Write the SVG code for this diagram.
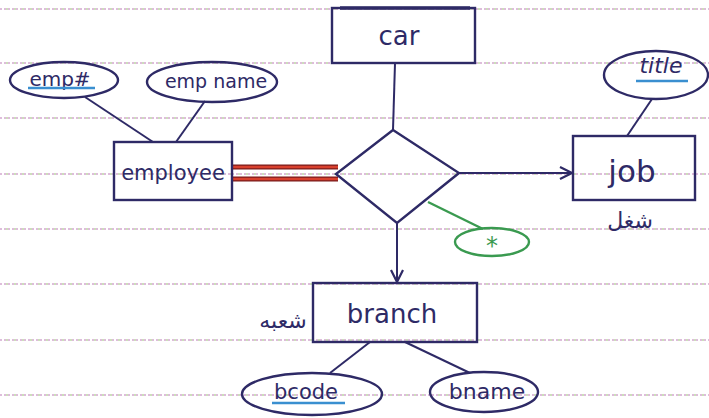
<svg xmlns="http://www.w3.org/2000/svg" width="709" height="418" viewBox="0 0 709 418">
<defs>
<style>
.paper{stroke:#d4a8d0;stroke-width:1.5;stroke-dasharray:2 2}
.paper2{stroke:#bcd4a4;stroke-width:1.5;stroke-dasharray:2 6;stroke-dashoffset:2}
.shape{fill:none;stroke:#2e2a66;stroke-width:2.4}
.ln{fill:none;stroke:#2e2a66;stroke-width:2}
.lbl{font-family:"DejaVu Sans","Liberation Sans",sans-serif;fill:#2e2a66;text-anchor:middle}
.ar{font-family:"DejaVu Sans","Noto Sans",sans-serif;fill:#2e2a66;text-anchor:middle}
.ul{stroke:#3a8fd0;stroke-width:2.5}
.grn{fill:none;stroke:#3a9a50;stroke-width:2.4}
</style>
<marker id="arr" viewBox="0 0 14 14" refX="13" refY="7" markerWidth="14" markerHeight="14" markerUnits="userSpaceOnUse" orient="auto">
<path d="M1,1 L13,7 L1,13" fill="none" stroke="#2e2a66" stroke-width="2.2"/>
</marker>
</defs>
<rect width="709" height="418" fill="#ffffff"/>
<g id="paper-lines">
<line class="paper" x1="0" y1="9" x2="709" y2="9"/><line class="paper2" x1="0" y1="9" x2="709" y2="9"/>
<line class="paper" x1="0" y1="63" x2="709" y2="63"/><line class="paper2" x1="0" y1="63" x2="709" y2="63"/>
<line class="paper" x1="0" y1="118" x2="709" y2="118"/><line class="paper2" x1="0" y1="118" x2="709" y2="118"/>
<line class="paper" x1="0" y1="174" x2="709" y2="174"/><line class="paper2" x1="0" y1="174" x2="709" y2="174"/>
<line class="paper" x1="0" y1="229" x2="709" y2="229"/><line class="paper2" x1="0" y1="229" x2="709" y2="229"/>
<line class="paper" x1="0" y1="284" x2="709" y2="284"/><line class="paper2" x1="0" y1="284" x2="709" y2="284"/>
<line class="paper" x1="0" y1="340" x2="709" y2="340"/><line class="paper2" x1="0" y1="340" x2="709" y2="340"/>
<line class="paper" x1="0" y1="395" x2="709" y2="395"/><line class="paper2" x1="0" y1="395" x2="709" y2="395"/>
</g>
<g id="connectors">
<line class="ln" x1="395" y1="63" x2="393" y2="130"/>
<line x1="232" y1="167" x2="338" y2="167" stroke="#7a1a1a" stroke-width="5"/>
<line x1="232" y1="167" x2="338" y2="167" stroke="#d8402e" stroke-width="2.5"/>
<line x1="232" y1="179" x2="338" y2="179" stroke="#7a1a1a" stroke-width="5"/>
<line x1="232" y1="179" x2="338" y2="179" stroke="#d8402e" stroke-width="2.5"/>
<line class="ln" x1="459" y1="173" x2="572" y2="173" marker-end="url(#arr)"/>
<line class="ln" x1="397" y1="223" x2="397" y2="282" marker-end="url(#arr)"/>
<line class="ln" x1="85" y1="97" x2="153" y2="142"/>
<line class="ln" x1="205" y1="101" x2="176" y2="142"/>
<line class="ln" x1="652" y1="99" x2="627" y2="136"/>
<line class="grn" x1="428" y1="202" x2="483" y2="229"/>
<line class="ln" x1="370" y1="342" x2="330" y2="373"/>
<line class="ln" x1="405" y1="342" x2="470" y2="373"/>
</g>
<g id="car">
<rect class="shape" x="332" y="8" width="143" height="55"/>
<line x1="340" y1="8" x2="470" y2="8" stroke="#2e2a66" stroke-width="3.5"/>
<text class="lbl" x="399" y="45" font-size="26">car</text>
</g>
<g id="relationship">
<polygon class="shape" points="393,130 459,173 397,223 336,174"/>
</g>
<g id="employee">
<rect class="shape" x="114" y="142" width="118" height="58"/>
<text class="lbl" x="173" y="180" font-size="21">employee</text>
</g>
<g id="emp-num">
<ellipse class="shape" cx="64" cy="80" rx="54" ry="18"/>
<text class="lbl" x="60" y="86" font-size="20">emp#</text>
<line class="ul" x1="28" y1="88" x2="95" y2="88"/>
</g>
<g id="emp-name">
<ellipse class="shape" cx="212" cy="82" rx="65" ry="20"/>
<text class="lbl" x="216" y="88" font-size="19">emp name</text>
</g>
<g id="job">
<rect class="shape" x="573" y="136" width="122" height="64"/>
<text class="lbl" x="632" y="182" font-size="31">job</text>
<text class="ar" x="630" y="228" font-size="22">شغل</text>
</g>
<g id="title">
<ellipse class="shape" cx="656" cy="75" rx="52" ry="24"/>
<text class="lbl" x="661" y="73" font-size="22" font-style="italic">title</text>
<line class="ul" x1="636" y1="81" x2="688" y2="81"/>
</g>
<g id="star-attr">
<ellipse class="grn" cx="492" cy="242" rx="37" ry="14"/>
<text x="492" y="254" font-family="DejaVu Sans, sans-serif" font-size="24" fill="#3a9a50" text-anchor="middle">*</text>
</g>
<g id="branch">
<rect class="shape" x="313" y="283" width="164" height="59"/>
<text class="lbl" x="392" y="323" font-size="26">branch</text>
<text class="ar" x="283" y="328" font-size="22">شعبه</text>
</g>
<g id="bcode">
<ellipse class="shape" cx="312" cy="394" rx="70" ry="21"/>
<text class="lbl" x="306" y="399" font-size="21">bcode</text>
<line class="ul" x1="272" y1="403" x2="345" y2="403"/>
</g>
<g id="bname">
<ellipse class="shape" cx="484" cy="392" rx="54" ry="20"/>
<text class="lbl" x="487" y="399" font-size="22">bname</text>
</g>
</svg>
